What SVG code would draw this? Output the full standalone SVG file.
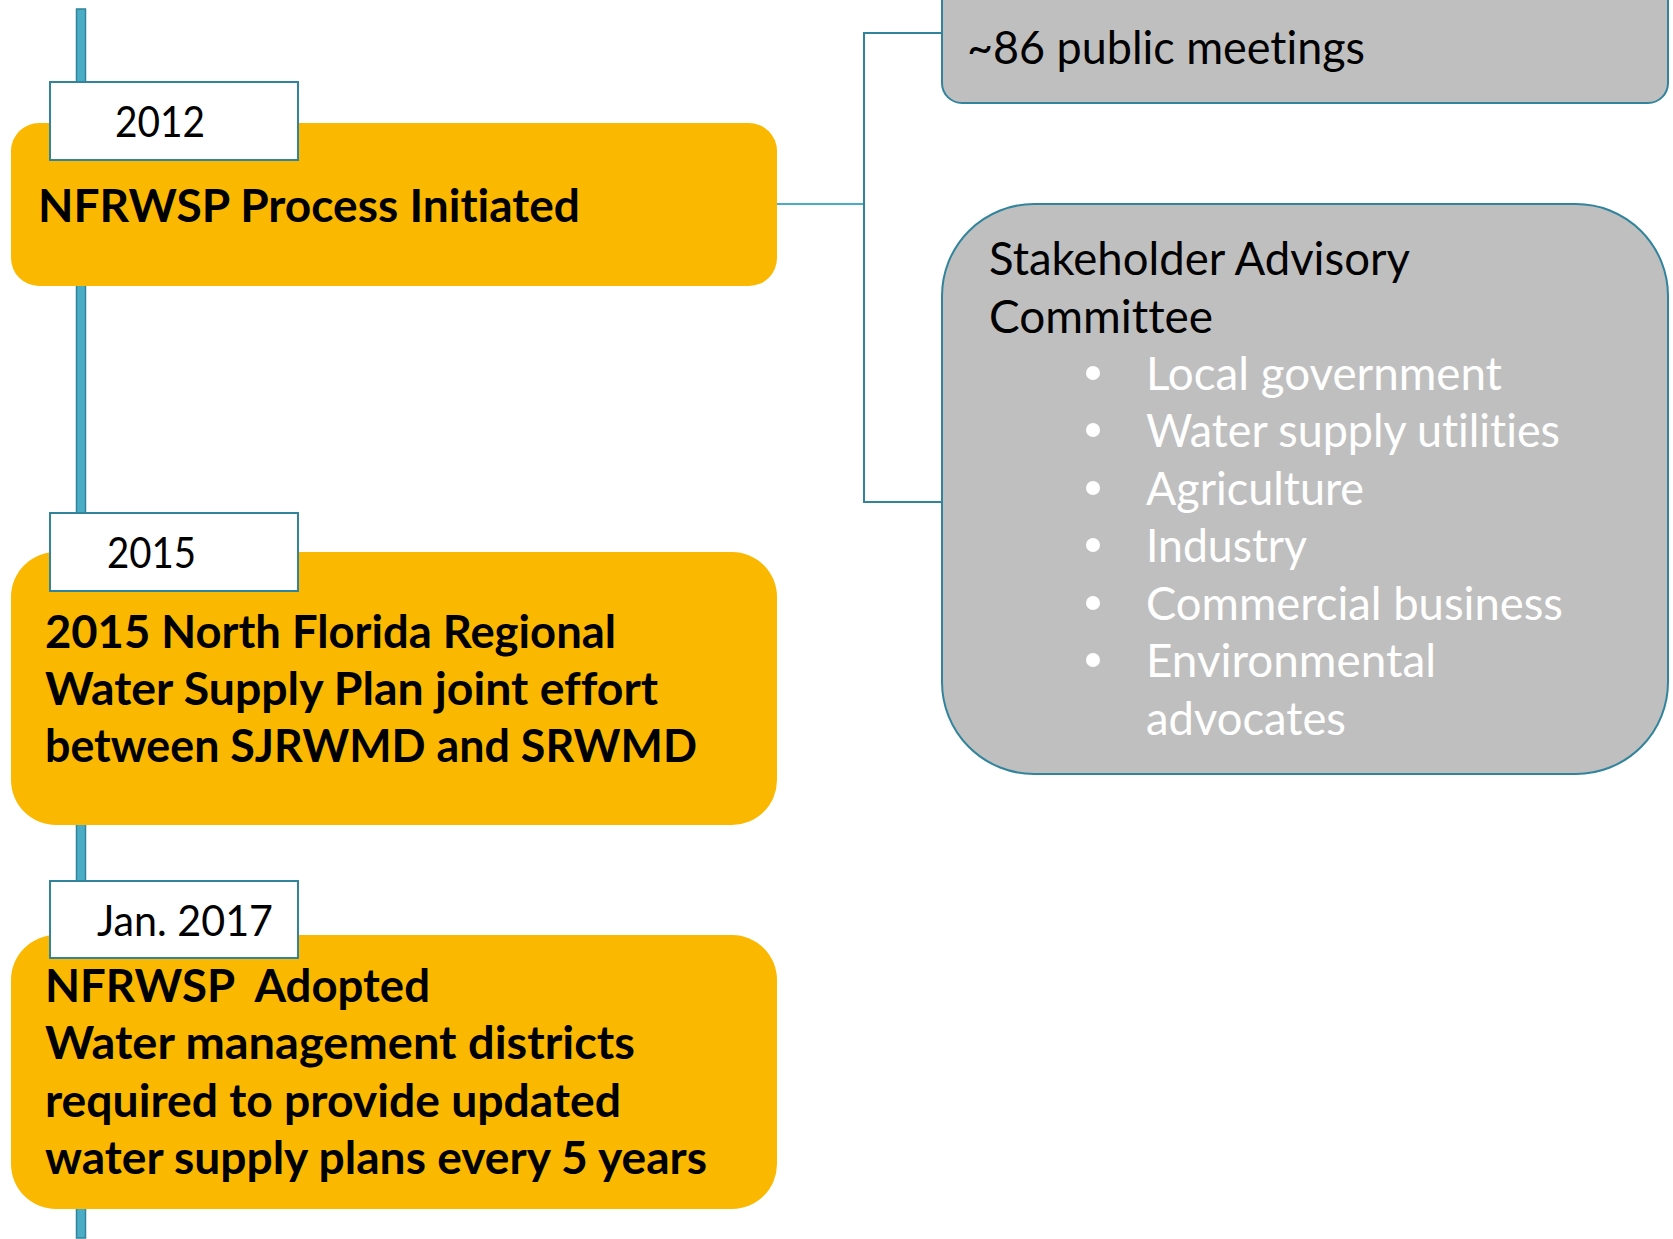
<svg xmlns="http://www.w3.org/2000/svg" width="1673" height="1239" viewBox="0 0 1673 1239">
<style>
text{font-variant-ligatures:none;}
.orange{fill:#FAB800;}
.year{fill:#FFFFFF;stroke:#31849B;stroke-width:2;}
.gray{fill:#BFBFBF;stroke:#31849B;stroke-width:2;}
.bold{font-family:Lato,"Liberation Sans",sans-serif;font-weight:bold;font-size:45px;fill:#000;}
.yr{font-family:Lato,"Liberation Sans",sans-serif;font-size:43px;fill:#000;}
.reg{font-family:Lato,"Liberation Sans",sans-serif;font-size:46px;fill:#000;}
.wht{font-family:Lato,"Liberation Sans",sans-serif;font-size:46px;fill:#FFFFFF;}
.dot{fill:#FFFFFF;}
.conn{fill:none;stroke-width:2;}
</style>
<rect width="1673" height="1239" fill="#FFFFFF"/>
<g id="timeline">
<rect x="76.5" y="9" width="9" height="1229" fill="#4BACC6" stroke="#31849B" stroke-width="1.5"/>
</g>
<g id="connectors">
<path class="conn" stroke="#4BACC6" d="M777 204 H864"/>
<path class="conn" stroke="#31849B" d="M942 33 H864 V502 H942"/>
</g>
<g id="node-2012">
<rect class="orange" x="11" y="123" width="766" height="163" rx="28"/>
<rect class="year" x="50" y="82" width="248" height="78"/>
<text class="yr" x="115" y="137" textLength="90" lengthAdjust="spacingAndGlyphs">2012</text>
<text class="bold" x="38" y="222" textLength="542" lengthAdjust="spacingAndGlyphs">NFRWSP Process Initiated</text>
</g>
<g id="node-2015">
<rect class="orange" x="11" y="552" width="766" height="273" rx="45"/>
<rect class="year" x="50" y="513" width="248" height="78"/>
<text class="yr" x="107" y="568" textLength="89" lengthAdjust="spacingAndGlyphs">2015</text>
<text class="bold" x="45" y="648" textLength="571" lengthAdjust="spacingAndGlyphs">2015 North Florida Regional</text>
<text class="bold" x="45" y="705" textLength="613" lengthAdjust="spacingAndGlyphs">Water Supply Plan joint effort</text>
<text class="bold" x="45" y="762" textLength="652" lengthAdjust="spacingAndGlyphs">between SJRWMD and SRWMD</text>
</g>
<g id="node-2017">
<rect class="orange" x="11" y="935" width="766" height="274" rx="45"/>
<rect class="year" x="50" y="881" width="248" height="77"/>
<text class="yr" x="97" y="936" textLength="176" lengthAdjust="spacingAndGlyphs">Jan. 2017</text>
<text class="bold" x="45" y="1002" textLength="385" lengthAdjust="spacingAndGlyphs" style="white-space:pre">NFRWSP  Adopted</text>
<text class="bold" x="45" y="1059" textLength="590" lengthAdjust="spacingAndGlyphs">Water management districts</text>
<text class="bold" x="45" y="1117" textLength="576" lengthAdjust="spacingAndGlyphs">required to provide updated</text>
<text class="bold" x="45" y="1174" textLength="662" lengthAdjust="spacingAndGlyphs">water supply plans every 5 years</text>
</g>
<g id="node-meetings">
<rect class="gray" x="942" y="-40" width="726" height="143" rx="20"/>
<text class="reg" x="967" y="64" textLength="398" lengthAdjust="spacingAndGlyphs">~86 public meetings</text>
</g>
<g id="node-sac">
<rect class="gray" x="942" y="204" width="726" height="570" rx="92"/>
<text class="reg" x="989" y="275" textLength="421" lengthAdjust="spacingAndGlyphs">Stakeholder Advisory</text>
<text class="reg" x="989" y="333" textLength="224" lengthAdjust="spacingAndGlyphs">Committee</text>
<circle class="dot" cx="1093" cy="373" r="7"/>
<circle class="dot" cx="1093" cy="430" r="7"/>
<circle class="dot" cx="1093" cy="488" r="7"/>
<circle class="dot" cx="1093" cy="545" r="7"/>
<circle class="dot" cx="1093" cy="603" r="7"/>
<circle class="dot" cx="1093" cy="660" r="7"/>
<text class="wht" x="1146" y="390" textLength="356" lengthAdjust="spacingAndGlyphs">Local government</text>
<text class="wht" x="1146" y="447" textLength="414" lengthAdjust="spacingAndGlyphs">Water supply utilities</text>
<text class="wht" x="1146" y="505" textLength="218" lengthAdjust="spacingAndGlyphs">Agriculture</text>
<text class="wht" x="1146" y="562" textLength="161" lengthAdjust="spacingAndGlyphs">Industry</text>
<text class="wht" x="1146" y="620" textLength="417" lengthAdjust="spacingAndGlyphs">Commercial business</text>
<text class="wht" x="1146" y="677" textLength="290" lengthAdjust="spacingAndGlyphs">Environmental</text>
<text class="wht" x="1146" y="735" textLength="200" lengthAdjust="spacingAndGlyphs">advocates</text>
</g>
</svg>
